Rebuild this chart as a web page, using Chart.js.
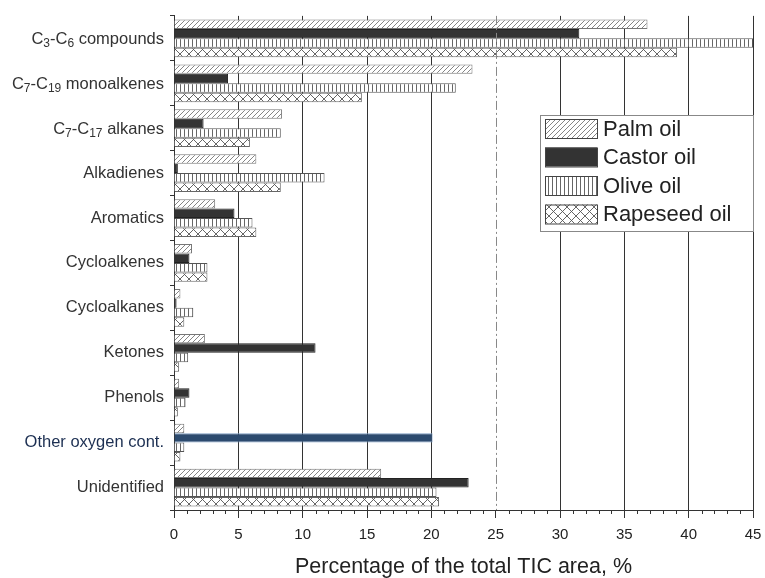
<!DOCTYPE html>
<html><head><meta charset="utf-8">
<script src="https://cdn.jsdelivr.net/npm/chart.js@4/dist/chart.umd.min.js"></script>
<style>html,body{margin:0;padding:0;background:#fff}#wrap{width:765px;height:578px;position:relative}</style>
</head><body><div id="wrap"><canvas id="c" width="765" height="578"></canvas></div>
<script>
const categories = ["C\u2083-C\u2086 compounds","C\u2087-C\u2081\u2089 monoalkenes","C\u2087-C\u2081\u2087 alkanes","Alkadienes","Aromatics","Cycloalkenes","Cycloalkanes","Ketones","Phenols","Other oxygen cont.","Unidentified"];
const seriesNames = ["Palm oil","Castor oil","Olive oil","Rapeseed oil"];
const palmOil     = [36.8, 23.2, 8.4, 6.4, 3.2, 1.4, 0.5, 2.4, 0.4, 0.8, 16.1];
const castorOil   = [31.5, 4.2, 2.3, 0.3, 4.7, 1.2, 0.2, 11.0, 1.2, 20.1, 22.9];
const oliveOil    = [45.0, 21.9, 8.3, 11.7, 6.1, 2.6, 1.5, 1.1, 0.9, 0.8, 20.4];
const rapeseedOil = [39.1, 14.6, 5.9, 8.3, 6.4, 2.6, 0.8, 0.4, 0.3, 0.5, 20.6];
const xTicks = [0,5,10,15,20,25,30,35,40,45];

const FONT = '"Liberation Sans", Arial, sans-serif';
const SUBS = '\u2080\u2081\u2082\u2083\u2084\u2085\u2086\u2087\u2088\u2089';
const hasSub = (s)=> [...s].some(ch=>SUBS.includes(ch));

function pat(type){
  const c=document.createElement('canvas');
  const s = type==='vert'?4:(type==='cross'?9:5);
  c.width=s;c.height=s;
  const g=c.getContext('2d');
  g.fillStyle='#fff';g.fillRect(0,0,s,s);
  g.strokeStyle= type==='diag' ? '#777' : '#555';g.lineWidth=0.9;
  g.beginPath();
  if(type==='diag'){
    g.moveTo(0,s);g.lineTo(s,0);
    g.moveTo(-1,1);g.lineTo(1,-1);
    g.moveTo(s-1,s+1);g.lineTo(s+1,s-1);
  } else if(type==='vert'){
    g.moveTo(0.5,0);g.lineTo(0.5,s);
  } else if(type==='cross'){
    g.moveTo(0,0);g.lineTo(s,s);
    g.moveTo(0,s);g.lineTo(s,0);
  }
  g.stroke();
  return g.createPattern(c,'repeat');
}
const fills=[pat('diag'),'#333333',pat('vert'),pat('cross')];
const castorColors = categories.map((c,i)=> i===9 ? '#2c4a6e' : '#333333');
const castorBorders = categories.map((c,i)=> i===9 ? '#7c9cc2' : '#222222');

const decorPlugin={
  id:'decor',
  afterDraw(chart){
    const ctx=chart.ctx, xs=chart.scales.x, ys=chart.scales.y, area=chart.chartArea;
    ctx.save();
    ctx.strokeStyle='#333';ctx.lineWidth=1;
    for(let v=1;v<45;v++){
      if(v%5===0) continue;
      const px=Math.round(xs.getPixelForValue(v))+0.5;
      ctx.beginPath();ctx.moveTo(px,area.bottom);ctx.lineTo(px,area.bottom+4);ctx.stroke();
    }
    const p25=Math.round(xs.getPixelForValue(25))+0.5;
    ctx.strokeStyle='#888';ctx.setLineDash([9,3,2,3]);
    ctx.beginPath();ctx.moveTo(p25,area.top);ctx.lineTo(p25,area.bottom);ctx.stroke();
    ctx.setLineDash([]);
    const mainF='16.5px '+FONT, subF='12px '+FONT;
    categories.forEach((lab,i)=>{
      if(!hasSub(lab)) return;
      const y=ys.getPixelForValue(i);
      const segs=[...lab].map(ch=>{const k=SUBS.indexOf(ch);return k>=0?{t:String(k),sub:true}:{t:ch,sub:false};});
      let w=0;
      segs.forEach(s=>{ctx.font=s.sub?subF:mainF;s.w=ctx.measureText(s.t).width;w+=s.w;});
      let x=164-w;
      ctx.fillStyle='#333';ctx.textBaseline='alphabetic';ctx.textAlign='left';
      segs.forEach(s=>{ctx.font=s.sub?subF:mainF;ctx.fillText(s.t,x,s.sub?y+9:y+6);x+=s.w;});
    });
    const lx=540,ly=115,lw=213,lh=116;
    ctx.fillStyle='#fff';ctx.fillRect(lx,ly,lw,lh);
    ctx.strokeStyle='#888';ctx.lineWidth=1;ctx.strokeRect(lx+0.5,ly+0.5,lw,lh);
    chart.data.datasets.forEach((ds,i)=>{
      const ry=119+i*28.5;
      ctx.fillStyle=fills[i];
      ctx.fillRect(545,ry,52,19);
      ctx.strokeStyle='#444';ctx.strokeRect(545.5,ry+0.5,52,19);
      ctx.fillStyle='#222';ctx.font='22px '+FONT;
      ctx.textBaseline='middle';ctx.textAlign='left';
      ctx.fillText(ds.label,603,ry+10.5);
    });
    ctx.restore();
  }
};

new Chart(document.getElementById('c'),{
  type:'bar',
  data:{labels:categories,datasets:[
    {label:seriesNames[0],data:palmOil,backgroundColor:fills[0],borderColor:'#777',borderWidth:1},
    {label:seriesNames[1],data:castorOil,backgroundColor:castorColors,borderColor:castorBorders,borderWidth:1},
    {label:seriesNames[2],data:oliveOil,backgroundColor:fills[2],borderColor:'#555',borderWidth:1},
    {label:seriesNames[3],data:rapeseedOil,backgroundColor:fills[3],borderColor:'#666',borderWidth:1}
  ]},
  options:{
    indexAxis:'y',responsive:false,animation:false,
    categoryPercentage:0.84,barPercentage:1.0,
    layout:{padding:{left:0,right:12,top:12,bottom:0}},
    plugins:{legend:{display:false},tooltip:{enabled:false}},
    scales:{
      x:{min:0,max:45,
        ticks:{stepSize:5,autoSkip:false,maxRotation:0,color:'#222',padding:8,
          font:{family:FONT,size:15}},
        grid:{color:(c)=> (c.tick && c.tick.value>0 && c.tick.value!==25) ? '#333' : 'rgba(0,0,0,0)',
          tickColor:'#333',tickLength:8,lineWidth:1},
        border:{color:'#333',width:1},
        title:{display:true,text:'Percentage of the total TIC area, %',color:'#222',
          font:{family:FONT,size:21.5},padding:{top:17,bottom:-2}},
        afterFit:(s)=>{s.height=68;s.paddingRight=0;s.paddingLeft=0;}
      },
      y:{
        ticks:{color:(c)=> c.index===9?'#1c2f52':'#333',padding:6,
          font:{family:FONT,size:16.5},
          callback:function(v,i){const l=this.getLabelForValue(v);return hasSub(l)?'':l;}},
        grid:{drawOnChartArea:false,tickLength:4,tickColor:'#333',offset:true},
        border:{color:'#333',width:1},
        afterFit:(s)=>{s.width=174;}
      }
    }
  },
  plugins:[decorPlugin]
});
</script></body></html>
